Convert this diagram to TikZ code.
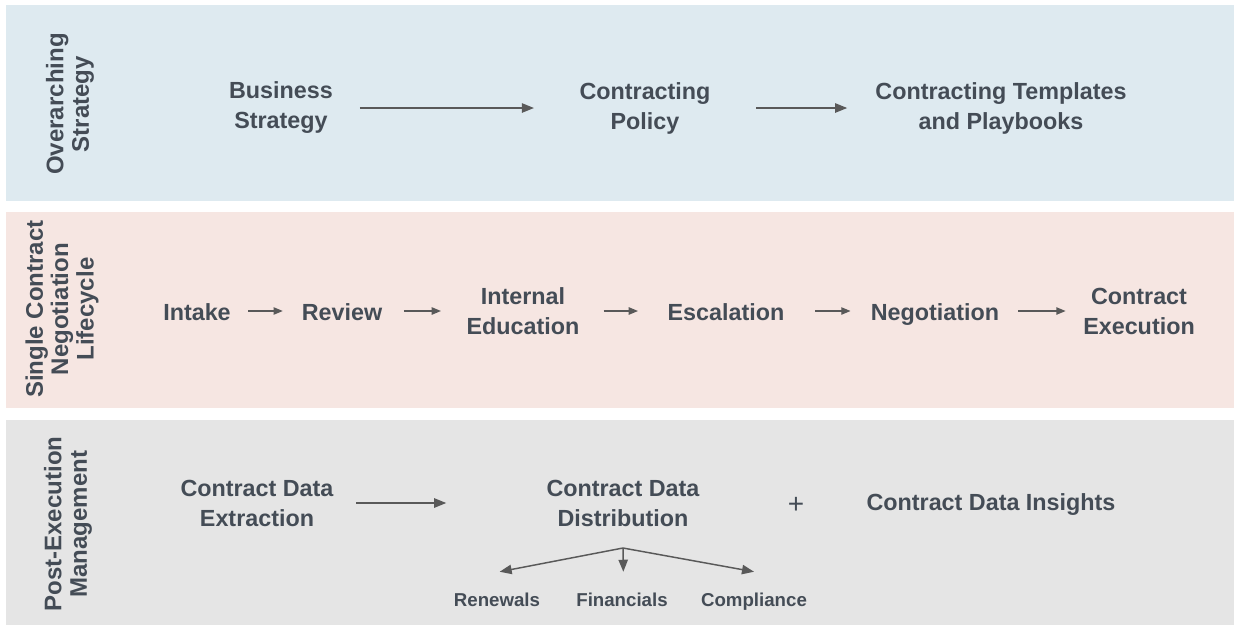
\documentclass[tikz,border=0pt]{standalone}
\usepackage{fontspec}
\setmainfont{Liberation Sans}
\usetikzlibrary{arrows.meta}
\definecolor{bandblue}{HTML}{DEEAF0}
\definecolor{bandpink}{HTML}{F6E6E2}
\definecolor{bandgrey}{HTML}{E5E5E5}
\definecolor{ink}{HTML}{444C56}
\definecolor{arrowgrey}{HTML}{595959}
\begin{document}
\begin{tikzpicture}[x=0.75pt,y=-0.75pt,
  lbl/.style={font=\bfseries\fontsize{17.5}{22.5}\selectfont, text=ink, align=center, inner sep=0pt},
  one/.style={lbl, text height=16pt, text depth=1.2pt},
  side/.style={font=\bfseries\fontsize{18}{19}\selectfont, text=ink, align=center, rotate=90, inner sep=0pt},
  small/.style={font=\bfseries\fontsize{14}{16}\selectfont, text=ink, inner sep=0pt, text height=10pt, text depth=3pt},
  flow/.style={draw=arrowgrey, line width=1.1pt, -{Triangle[length=9pt,width=7pt]}},
  flowsm/.style={draw=arrowgrey, line width=1.1pt, -{Triangle[length=7pt,width=5.5pt]}},
]
\useasboundingbox (0,0) rectangle (1234,626);
\fill[white] (0,0) rectangle (1234,626);

% bands
\fill[bandblue] (6,5) rectangle (1234,201);
\fill[bandpink] (6,212) rectangle (1234,408);
\fill[bandgrey] (6,420) rectangle (1234,625);

% band titles
\node[side] (t1) at (70,104) {Overarching\\Strategy};
\node[side] (t2) at (62,309) {Single Contract\\Negotiation\\Lifecycle};
\node[side] (t3) at (68,524) {Post-Execution\\Management};

% overarching strategy
\node[lbl] (bs) at (281,108) {Business\\Strategy};
\node[lbl] (cp) at (645,108) {Contracting\\Policy};
\node[lbl] (ct) at (1001,108) {Contracting Templates\\and Playbooks};
\draw[flow, shorten <=20pt, shorten >=34pt] (bs) -- (cp);
\draw[flow, shorten <=34pt, shorten >=21pt] (cp) -- (ct);

% negotiation lifecycle
\node[one] (in) at (197,311) {Intake};
\node[one] (rv) at (342,311) {Review};
\node[lbl] (ie) at (523,311) {Internal\\Education};
\node[one] (es) at (726,311) {Escalation};
\node[one] (ng) at (935,311) {Negotiation};
\node[lbl] (ce) at (1139,311) {Contract\\Execution};
\draw[flowsm, shorten <=13pt, shorten >=14pt] (in) -- (rv);
\draw[flowsm, shorten <=16pt, shorten >=19pt] (rv) -- (ie);
\draw[flowsm, shorten <=18pt, shorten >=22pt] (ie) -- (es);
\draw[flowsm, shorten <=23pt, shorten >=15pt] (es) -- (ng);
\draw[flowsm, shorten <=14pt, shorten >=13pt] (ng) -- (ce);

% post-execution
\node[lbl] (ex) at (257,503) {Contract Data\\Extraction};
\node[lbl] (ds) at (623,503) {Contract Data\\Distribution};
\node[font=\fontsize{21}{21}\selectfont, text=ink, inner sep=0pt] (plus) at (796,505) {+};
\node[one] (ins) at (991,501) {Contract Data Insights};
\draw[flow, shorten <=17pt, shorten >=75pt] (ex) -- (ds);

\node[small] (ren) at (497,602) {Renewals};
\node[small] (fin) at (622,602) {Financials};
\node[small] (com) at (754,602) {Compliance};
\coordinate (split) at (623,548);
\draw[flow] (split) -- ([xshift=2pt,yshift=16pt]ren.north);
\draw[flow] (split) -- ([xshift=1pt,yshift=16pt]fin.north);
\draw[flow] (split) -- ([yshift=16pt]com.north);
\end{tikzpicture}
\end{document}
